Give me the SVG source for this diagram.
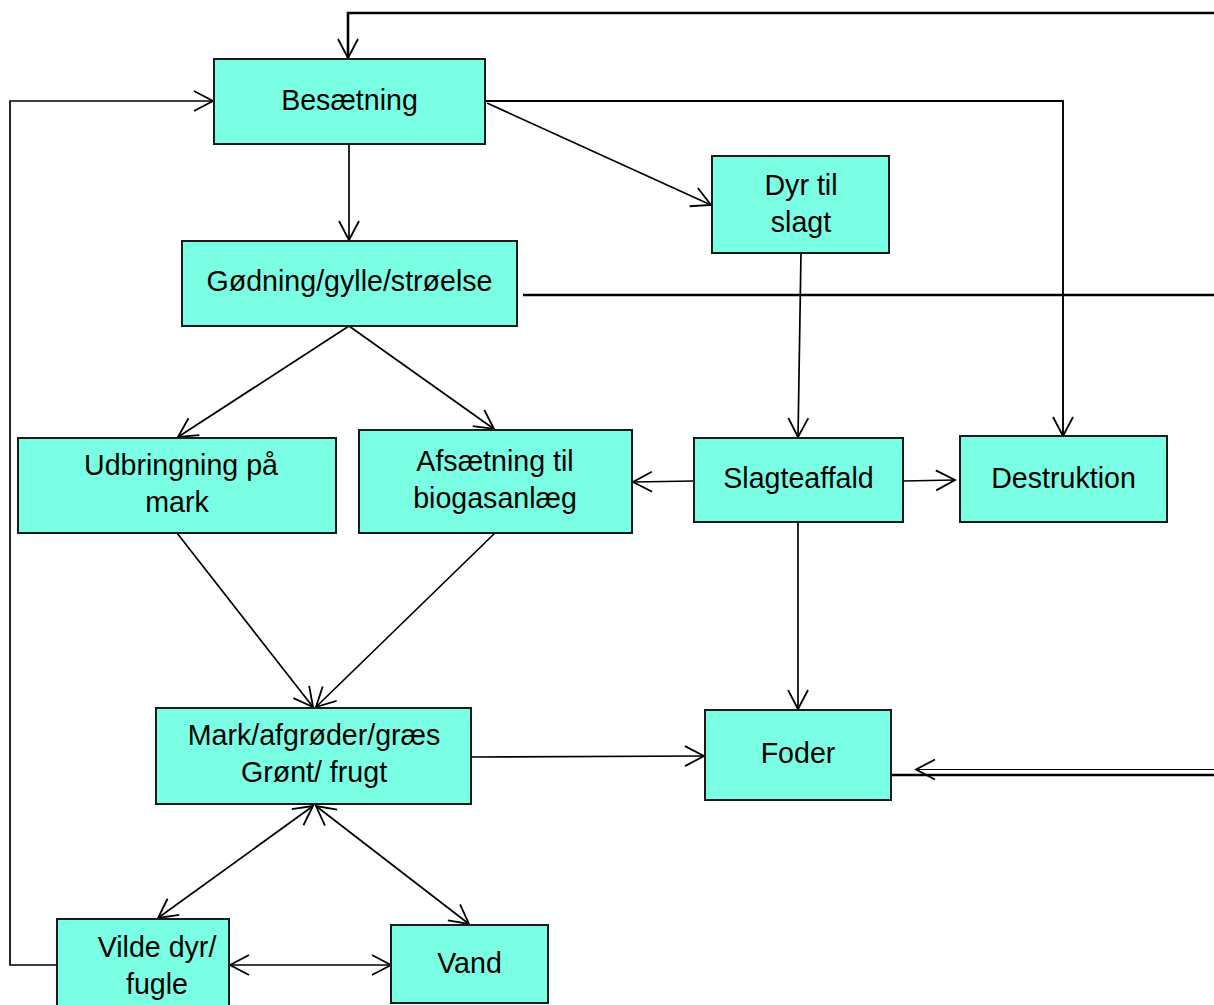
<svg xmlns="http://www.w3.org/2000/svg" width="1214" height="1005" viewBox="0 0 1214 1005">
<style>
.box{fill:#7affe4;stroke:#1a1a1a;stroke-width:2}
.t{font-family:"Liberation Sans",Arial,sans-serif;font-size:28.6px;fill:#000;text-anchor:middle}
.c{fill:none;stroke:#000;stroke-width:1.7}
.thick{stroke-width:2.6}
</style>
<defs>
<marker id="a" viewBox="-22 -12 24 24" refX="0" refY="0" markerWidth="24" markerHeight="24" markerUnits="userSpaceOnUse" orient="auto-start-reverse">
<path d="M-19,-10 L0,0 L-19,10" fill="none" stroke="#000" stroke-width="1.8"/>
</marker>
</defs>
<rect width="1214" height="1005" fill="#fff"/>
<g id="connectors">
<path class="c thick" d="M1214,13 H348 V58" marker-end="url(#a)"/>
<path class="c" d="M57,965 H10 V101 H213" marker-end="url(#a)"/>
<path class="c" d="M485,101 H1063 V436" marker-end="url(#a)" style="stroke-width:1.9"/>
<path class="c" d="M487,103 L711,205" marker-end="url(#a)"/>
<path class="c" d="M349,144 V240" marker-end="url(#a)"/>
<path class="c thick" d="M523,295 H1214"/>
<path class="c" d="M349,326 L178,437" marker-end="url(#a)"/>
<path class="c" d="M349,326 L494,429" marker-end="url(#a)"/>
<path class="c" d="M801,253 L798,437" marker-end="url(#a)"/>
<path class="c" d="M694,481 L633,482" marker-end="url(#a)"/>
<path class="c" d="M903,481 L955,480" marker-end="url(#a)"/>
<path class="c" d="M798,522 V709" marker-end="url(#a)"/>
<path class="c" d="M177,533 L313,707" marker-end="url(#a)"/>
<path class="c" d="M495,533 L316,707" marker-end="url(#a)"/>
<path class="c" d="M471,757 L704,756" marker-end="url(#a)"/>
<path class="c" d="M313,806 L158,918" marker-start="url(#a)" marker-end="url(#a)"/>
<path class="c" d="M316,806 L469,924" marker-start="url(#a)" marker-end="url(#a)"/>
<path class="c" d="M230,965 L391,965" marker-start="url(#a)" marker-end="url(#a)"/>
<path class="c" d="M1214,769.5 H916" style="stroke-width:1.2" marker-end="url(#a)"/>
<path class="c thick" d="M1214,775 H892"/>
</g>
<g id="besaetning"><rect class="box" x="214" y="59" width="271" height="85"/><text class="t" x="349.5" y="110">Besætning</text></g>
<g id="dyr-til-slagt"><rect class="box" x="712" y="156" width="177" height="97"/><text class="t" x="801" y="195">Dyr til</text><text class="t" x="801" y="232">slagt</text></g>
<g id="godning"><rect class="box" x="182" y="241" width="335" height="85"/><text class="t" x="349.5" y="291">Gødning/gylle/strøelse</text></g>
<g id="udbringning"><rect class="box" x="18" y="438" width="318" height="95"/><text class="t" x="181" y="475">Udbringning på</text><text class="t" x="177" y="512">mark</text></g>
<g id="afsaetning"><rect class="box" x="359" y="430" width="273" height="103"/><text class="t" x="495" y="471">Afsætning til</text><text class="t" x="495" y="508">biogasanlæg</text></g>
<g id="slagteaffald"><rect class="box" x="694" y="438" width="209" height="84"/><text class="t" x="798.5" y="488">Slagteaffald</text></g>
<g id="destruktion"><rect class="box" x="960" y="436" width="207" height="86"/><text class="t" x="1063.5" y="488">Destruktion</text></g>
<g id="mark"><rect class="box" x="156" y="708" width="315" height="96"/><text class="t" x="314" y="745">Mark/afgrøder/græs</text><text class="t" x="314" y="782">Grønt/ frugt</text></g>
<g id="foder"><rect class="box" x="705" y="710" width="186" height="90"/><text class="t" x="798" y="763">Foder</text></g>
<g id="vilde"><rect class="box" x="57" y="919" width="172" height="95"/><text class="t" x="157" y="957">Vilde dyr/</text><text class="t" x="157" y="994">fugle</text></g>
<g id="vand"><rect class="box" x="391" y="925" width="157" height="78"/><text class="t" x="469.5" y="973">Vand</text></g>
</svg>
